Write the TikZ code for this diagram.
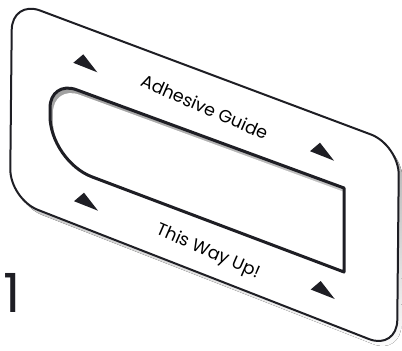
\documentclass[tikz,border=0pt]{standalone}
\usepackage{fontspec}
\setmainfont{Poppins}
\definecolor{ink}{HTML}{1E1E24}
\definecolor{shade}{HTML}{C3C3C8}
\begin{document}
\begin{tikzpicture}[x=1pt,y=-1pt,
  cardline/.style={line width=2pt, draw=ink, line join=round},
  holeline/.style={line width=3pt, draw=ink, line join=round},
  lbl/.style={font=\fontsize{17.5}{20}\selectfont, text=black, inner sep=0pt},
  tri/.pic={\fill[ink] (0,0) -- (-10,8.5) -- (14,18) -- cycle;}]
\useasboundingbox (0,0) rectangle (402,351);
% card shadow
\fill[shade, rounded corners=30pt, shift={(4,5)}]
  (11,100) -- (12,0) -- (399,145) -- (397,350) -- (10,199) -- cycle;
% card
\filldraw[cardline, fill=white, rounded corners=30pt]
  (11,100) -- (12,0) -- (399,145) -- (397,350) -- (10,199) -- cycle;
% hole with inner edge shading
\begin{scope}
  \clip (344,188) -- (344,272) -- (92.1,176.9) .. controls (68.9,168.2) and (50,140.8) .. (50,116)
    -- (50,108) .. controls (50,92.6) and (61.8,84.4) .. (76.3,89.7) -- cycle;
  \fill[shade] (0,0) rectangle (402,351);
  \fill[white, shift={(3,5)}] (344,188) -- (344,272) -- (92.1,176.9) .. controls (68.9,168.2) and (50,140.8) .. (50,116)
    -- (50,108) .. controls (50,92.6) and (61.8,84.4) .. (76.3,89.7) -- cycle;
\end{scope}
\draw[holeline] (344,188) -- (344,272) -- (92.1,176.9) .. controls (68.9,168.2) and (50,140.8) .. (50,116)
    -- (50,108) .. controls (50,92.6) and (61.8,84.4) .. (76.3,89.7) -- cycle;
% arrows
\pic at (83.3,54.3) {tri};
\pic at (320,142.7) {tri};
\pic at (84,192.7) {tri};
\pic at (320.7,281) {tri};
% labels
\node[lbl, rotate=-23.5, anchor=base] (ag) at (202,113) {Adhesive Guide};
\node[lbl, rotate=-23.5, anchor=base] (wu) at (206,256) {This Way Up!};
\node[anchor=base west, inner sep=0pt, font=\fontsize{54}{60}\selectfont, text=ink] (num) at (3,312) {1};
\end{tikzpicture}
\end{document}
